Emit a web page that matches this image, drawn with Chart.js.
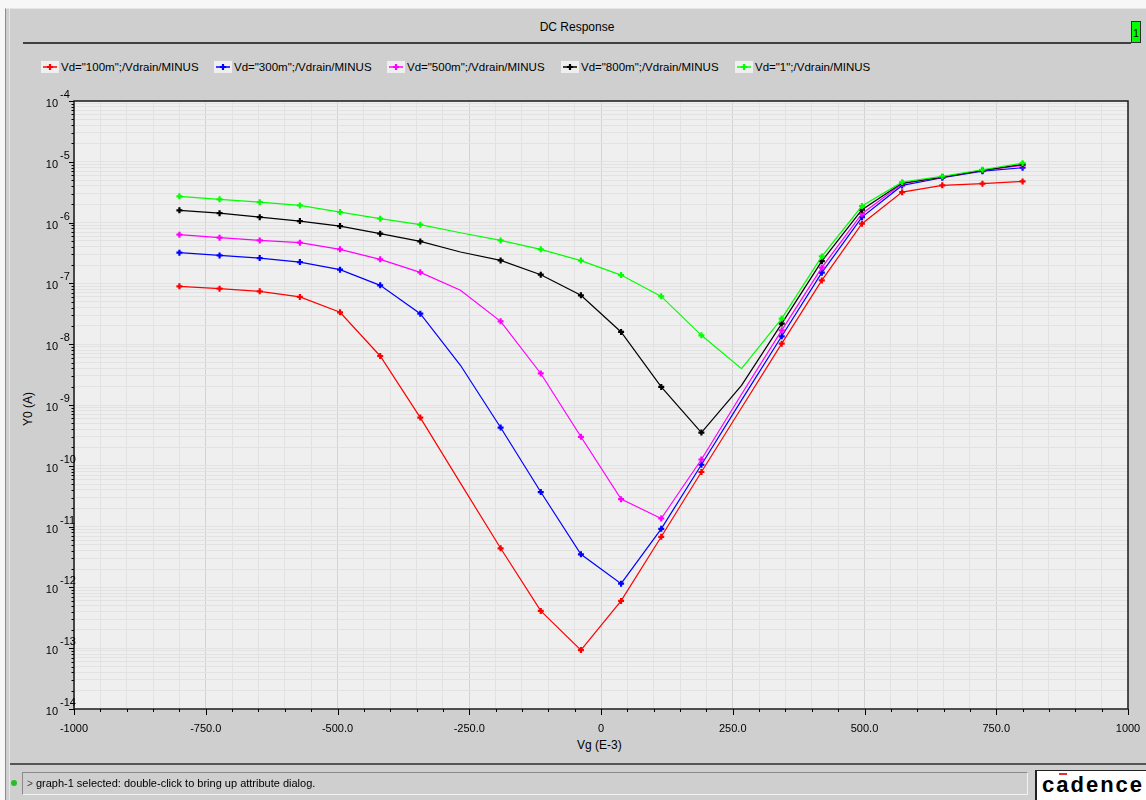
<!DOCTYPE html>
<html>
<head>
<meta charset="utf-8">
<title>DC Response</title>
<script src="https://cdn.jsdelivr.net/npm/chart.js@4.4.1/dist/chart.umd.min.js"></script>
<style>
    body { margin: 0; width: 1146px; height: 800px; overflow: hidden; background: #f7f7f7; font-family: "Liberation Sans", Arial, sans-serif; color: #000; }
    #frame { position: absolute; left: 5px; top: 8px; right: 0; bottom: 0; background: #cfcfcf; border-left: 1px solid #8c8c8c; border-top: 1px solid #e6e6e6; }
    #frame::before { content: ""; position: absolute; left: 3px; top: 0; bottom: 0; width: 1px; background: #e8e8e8; }
    .title { position: absolute; left: 23px; width: 1108px; top: 20px; text-align: center; font-size: 12px; }
    .title-rule { position: absolute; left: 23px; width: 1108px; top: 42px; height: 0; border-top: 2px solid #404040; }
    .tab { position: absolute; left: 1131px; top: 21px; width: 8px; height: 20px; background: #00ff00; border: 1px solid #303030; font-size: 10px; line-height: 24px; text-align: center; }
    .legend { position: absolute; top: 61px; left: 0; height: 13px; }
    .legend-item { position: absolute; top: 0; display: flex; align-items: center; white-space: nowrap; font-size: 11.5px; }
    .legend-item svg { background: #efefef; margin-right: 2px; }
    .axis-title { position: absolute; font-size: 12px; white-space: nowrap; }
    .status-rule { position: absolute; left: 10px; right: 0; top: 763px; border-top: 2px solid #555; }
    .status-dot { position: absolute; left: 11px; top: 780px; width: 6px; height: 6px; border-radius: 50%; background: #22c022; }
    .status-box { position: absolute; left: 22px; top: 772px; width: 1004px; height: 21px; border: 1px solid #8a8a8a; border-right-color: #f2f2f2; border-bottom-color: #f2f2f2; font-size: 11px; line-height: 21px; }
    .status-box span { margin-left: 4px; font-size: 10px; color: #444; }
    .logo { position: absolute; left: 1035px; top: 770px; width: 120px; height: 32px; background: #fff; border-left: 2px solid #222; border-top: 1px solid #222; overflow: hidden; }
    .logo-text { position: absolute; left: 5px; top: 1px; font: bold 22px "Liberation Sans", Arial, sans-serif; letter-spacing: 2px; }
    .logo-bar { position: absolute; left: 22px; top: 2px; width: 8px; height: 2px; background: #e03030; }
    canvas { position: absolute; left: 0; top: 0; }
</style>
</head>
<body>
<div id="frame"></div>
<div class="title">DC Response</div>
<div class="title-rule"></div>
<div class="tab">1</div>
<div class="legend" id="legend"></div>
<div class="axis-title" style="left: 577px; top: 738px;">Vg (E-3)</div>
<div class="axis-title" style="left: 11px; top: 402px; transform: rotate(-90deg);">Y0 (A)</div>
<canvas id="dcChart" width="1146" height="800"></canvas>
<div class="status-rule"></div>
<div class="status-dot"></div>
<div class="status-box"><span>&gt;</span> graph-1 selected: double-click to bring up attribute dialog.</div>
<div class="logo"><div class="logo-bar"></div><div class="logo-text">cadence</div></div>

<script>
// Vg sweep points (mV)
const vgPoints = [-800, -723.8, -647.6, -571.4, -495.2, -419.0, -342.9, -266.7, -190.5, -114.3, -38.1,
    38.1, 114.3, 190.5, 266.7, 342.9, 419.0, 495.2, 571.4, 647.6, 723.8, 800];

// drain current (A) for each vd
const id100m = [8.95e-8, 8.2e-8, 7.4e-8, 6.0e-8, 3.35e-8, 6.4e-9, 6.2e-10, 5.2e-11, 4.4e-12, 4.1e-13, 9.3e-14,
    6.0e-13, 6.8e-12, 7.9e-11, 9.0e-10, 1.02e-8, 1.12e-7, 9.6e-7, 3.17e-6, 4.1e-6, 4.36e-6, 4.75e-6];
const id300m = [3.2e-7, 2.89e-7, 2.61e-7, 2.24e-7, 1.68e-7, 9.3e-8, 3.18e-8, 4.5e-9, 4.26e-10, 3.7e-11, 3.5e-12,
    1.15e-12, 9.2e-12, 1.04e-10, 1.2e-9, 1.35e-8, 1.5e-7, 1.23e-6, 4.09e-6, 5.47e-6, 7.02e-6, 7.98e-6];
const id500m = [6.33e-7, 5.65e-7, 5.1e-7, 4.67e-7, 3.63e-7, 2.49e-7, 1.52e-7, 7.7e-8, 2.38e-8, 3.3e-9, 3.0e-10,
    2.83e-11, 1.36e-11, 1.27e-10, 1.5e-9, 1.69e-8, 1.82e-7, 1.4e-6, 4.36e-6, 5.6e-6, 7.21e-6, 8.71e-6];
const id800m = [1.59e-6, 1.43e-6, 1.23e-6, 1.06e-6, 8.76e-7, 6.57e-7, 4.91e-7, 3.28e-7, 2.39e-7, 1.39e-7, 6.37e-8,
    1.59e-8, 1.98e-9, 3.52e-10, 2.11e-9, 2.18e-8, 2.33e-7, 1.63e-6, 4.46e-6, 5.6e-6, 7.21e-6, 9.04e-6];
const id1 = [2.7e-6, 2.41e-6, 2.17e-6, 1.92e-6, 1.49e-6, 1.16e-6, 9.24e-7, 6.8e-7, 5.1e-7, 3.63e-7, 2.37e-7,
    1.37e-7, 6.12e-8, 1.4e-8, 3.97e-9, 2.64e-8, 2.78e-7, 1.87e-6, 4.63e-6, 5.74e-6, 7.4e-6, 9.5e-6];

const seriesLabels = ['Vd="100m";/Vdrain/MINUS', 'Vd="300m";/Vdrain/MINUS', 'Vd="500m";/Vdrain/MINUS',
    'Vd="800m";/Vdrain/MINUS', 'Vd="1";/Vdrain/MINUS'];
const seriesColors = ['#ff0000', '#0000ff', '#ff00ff', '#000000', '#00ff00'];
const seriesValues = [id100m, id300m, id500m, id800m, id1];
const legendLeft = [41, 214, 387, 561, 735];

// points the viewer draws without a marker
const unmarkedPoints = [7, 14];

const xTickLabels = { '-1000': '-1000', '-750': '-750.0', '-500': '-500.0', '-250': '-250.0', '0': '0',
    '250': '250.0', '500': '500.0', '750': '750.0', '1000': '1000' };

const FONT = '"Liberation Sans", Arial, sans-serif';

// legend
document.getElementById('legend').innerHTML = seriesLabels.map((label, i) => `
    <div class="legend-item" style="left:${legendLeft[i]}px">
        <svg width="18" height="12"><line x1="2" y1="6" x2="16" y2="6" stroke="${seriesColors[i]}" stroke-width="1.5"/>
        <path d="M9 3v6M6 6h6" stroke="${seriesColors[i]}" stroke-width="2.2"/></svg>${label.replace(/"/g, '&quot;')}
    </div>`).join('');

const plotFrame = {
    id: 'plotFrame',
    beforeDraw(chart) {
        const { ctx, chartArea: a } = chart;
        ctx.save();
        ctx.fillStyle = '#efefef';
        ctx.fillRect(a.left, a.top, a.right - a.left, a.bottom - a.top);
        ctx.restore();
    },
    afterDraw(chart) {
        const { ctx, chartArea: a, scales: { x, y } } = chart;
        ctx.save();
        ctx.strokeStyle = '#1a1a1a';
        ctx.lineWidth = 1.5;
        ctx.strokeRect(a.left, a.top, a.right - a.left, a.bottom - a.top);

        ctx.lineWidth = 1;
        ctx.strokeStyle = '#000';
        ctx.beginPath();
        x.ticks.forEach(t => {
            const px = Math.round(x.getPixelForValue(t.value)) + 0.5;
            const len = t.value % 250 === 0 ? 6 : 3;
            ctx.moveTo(px, a.bottom);
            ctx.lineTo(px, a.bottom + len);
        });
        y.ticks.forEach(t => {
            const py = Math.round(y.getPixelForValue(t.value)) + 0.5;
            const exp = Math.floor(Math.log10(t.value) + 1e-9);
            const decade = Math.abs(t.value / Math.pow(10, exp) - 1) < 1e-6;
            ctx.moveTo(a.left - (decade ? 5 : 2.5), py);
            ctx.lineTo(a.left, py);
        });
        ctx.stroke();

        // 10^n labels
        ctx.fillStyle = '#000';
        ctx.textBaseline = 'middle';
        y.ticks.forEach(t => {
            const exp = Math.floor(Math.log10(t.value) + 1e-9);
            if (Math.abs(t.value / Math.pow(10, exp) - 1) > 1e-6) return;
            const py = y.getPixelForValue(t.value);
            ctx.font = '11px ' + FONT;
            ctx.textAlign = 'right';
            ctx.fillText('10', 58, py + 3);
            ctx.textAlign = 'left';
            ctx.fillText(String(exp), 60, py - 6);
        });
        ctx.restore();
    }
};

new Chart(document.getElementById('dcChart'), {
    type: 'line',
    data: {
        datasets: seriesValues.map((vals, i) => ({
            label: seriesLabels[i],
            data: vgPoints.map((vg, k) => ({ x: vg, y: vals[k] })),
            borderColor: seriesColors[i],
            backgroundColor: seriesColors[i],
            borderWidth: 1.2,
            tension: 0,
            pointStyle: 'cross',
            pointRadius: vgPoints.map((_, k) => unmarkedPoints.includes(k) ? 0 : 3),
            pointBorderWidth: 2.2,
            order: seriesValues.length - i
        }))
    },
    options: {
        responsive: false,
        animation: false,
        layout: { padding: { left: 10, top: 101, right: 18, bottom: 41 } },
        plugins: { legend: { display: false }, tooltip: { enabled: false } },
        scales: {
            x: {
                type: 'linear', min: -1000, max: 1000,
                afterBuildTicks: scale => {
                    const ticks = [];
                    for (let v = -1000; v <= 1000; v += 50) ticks.push({ value: v });
                    scale.ticks = ticks;
                },
                afterFit: scale => {
                    scale.height = 50;
                    scale.paddingLeft = 0;
                    scale.paddingRight = 0;
                },
                border: { display: false },
                grid: { drawTicks: false, color: c => (c.tick && c.tick.value % 250 === 0) ? '#d3d3d3' : '#e2e2e2' },
                ticks: {
                    autoSkip: false, maxRotation: 0, padding: 13, color: '#000',
                    font: { family: FONT, size: 11 },
                    callback: v => xTickLabels[String(v)] || ''
                }
            },
            y: {
                type: 'logarithmic', min: 1e-14, max: 1e-4,
                afterBuildTicks: scale => {
                    const ticks = [];
                    for (let e = -14; e <= -4; e++) {
                        for (let m = 1; m <= 9; m++) {
                            if (e === -4 && m > 1) break;
                            ticks.push({ value: m * Math.pow(10, e) });
                        }
                    }
                    scale.ticks = ticks;
                },
                afterFit: scale => {
                    scale.width = 64;
                    scale.paddingTop = 0;
                    scale.paddingBottom = 0;
                },
                border: { display: false },
                grid: { drawTicks: false, color: '#e2e2e2' },
                ticks: { display: false }
            }
        }
    },
    plugins: [plotFrame]
});
</script>
</body>
</html>
